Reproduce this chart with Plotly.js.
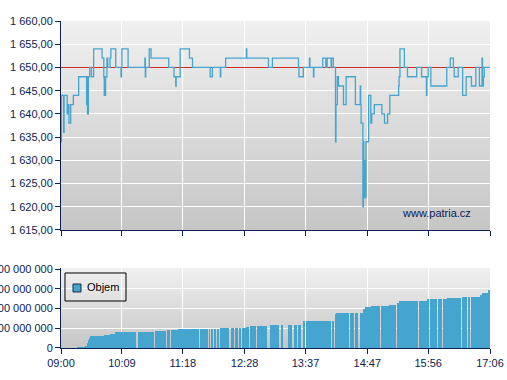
<!DOCTYPE html>
<html>
<head>
<meta charset="utf-8">
<script src="https://cdn.plot.ly/plotly-3.0.1.min.js"></script>
<style>html,body{margin:0;padding:0;background:#fff;}#chart{width:507px;height:380px;}</style>
</head>
<body>
<div id="chart"></div>
<script>
// ---- data ----
const tradeDay = '2024-01-02';
const sessionStart = '09:00:00';
const sessionEnd = '17:06:00';
const prevClose = 1650;
const volumeLabel = 'Objem';
const sourceLabel = 'www.patria.cz';

const timeTicks = ['09:00', '10:09', '11:18', '12:28', '13:37', '14:47', '15:56', '17:06'];
const priceTicks = [1615, 1620, 1625, 1630, 1635, 1640, 1645, 1650, 1655, 1660];
const volumeTicks = [0, 100000000, 200000000, 300000000, 400000000];

const priceTimes = [
  '09:00:00','09:00:30','09:03:00','09:03:30','09:07:00','09:07:30','09:09:00','09:11:00','09:14:00','09:20:00',
  '09:29:00','09:29:30','09:30:00','09:31:00','09:32:30','09:34:30','09:37:00','09:46:30','09:48:30','09:49:00',
  '09:50:30','09:52:00','09:53:00','09:55:30','09:56:30','10:02:00','10:08:00','10:08:30','10:09:00','10:16:00',
  '10:35:00','10:35:30','10:36:00','10:40:00','10:42:00','11:02:00','11:08:00','11:10:00','11:10:30','11:15:00',
  '11:25:30','11:29:00','11:49:00','11:51:30','12:00:30','12:01:00','12:06:30','12:30:00','12:30:30','12:55:00',
  '12:59:30','13:29:00','13:29:30','13:34:30','13:41:30','13:42:00','13:46:00','13:46:30','13:56:30','14:00:00',
  '14:01:30','14:06:00','14:06:30','14:08:30','14:11:00','14:11:30','14:13:00','14:14:20','14:20:00','14:23:00',
  '14:33:30','14:39:00','14:39:30','14:40:00','14:42:00','14:42:30','14:43:00','14:44:00','14:45:00','14:45:30',
  '14:48:30','14:51:00','14:52:00','14:55:00','15:03:30','15:06:30','15:10:00','15:12:30','15:22:30','15:23:00',
  '15:24:00','15:29:00','15:32:30','15:43:00','15:48:30','15:54:00','15:54:30','15:56:00','15:59:00','16:17:00',
  '16:21:00','16:24:30','16:25:30','16:30:00','16:35:00','16:39:00','16:45:00','16:50:00','16:54:00','16:57:00',
  '16:57:30','16:58:30','16:59:30','17:06:00'
];
const prices = [
  1634,1644,1636,1644,1640,1642,1638,1642,1644,1648,
  1642,1648,1640,1648,1650,1648,1654,1652,1648,1644,
  1648,1652,1650,1652,1654,1650,1648,1650,1654,1650,
  1652,1648,1650,1654,1652,1650,1648,1646,1648,1654,
  1652,1650,1648,1650,1648,1650,1652,1654,1652,1650,
  1652,1650,1648,1650,1652,1650,1648,1650,1652,1650,
  1652,1650,1652,1650,1634,1642,1648,1646,1642,1648,
  1642,1646,1642,1638,1620,1634,1622,1630,1622,1634,
  1644,1638,1640,1642,1640,1638,1640,1644,1646,1648,
  1654,1650,1648,1650,1648,1644,1648,1650,1646,1650,
  1652,1650,1648,1650,1644,1648,1646,1650,1646,1652,
  1646,1648,1650,1650
];

// cumulative volume blocks (start, end, cumulative volume)
const volStart = [
  '09:18:00','09:27:30','09:29:00','09:30:30','09:31:30','09:32:30','09:44:30','09:49:00','09:55:50','10:01:30',
  '10:26:40','10:46:30','11:00:00','11:05:00','11:13:00','11:37:30','11:47:40','11:50:20','11:53:10','11:57:00',
  '12:00:25','12:12:50','12:17:20','12:21:30','12:25:20','12:29:50','12:34:20','12:41:55','12:44:30','12:56:55',
  '13:09:00','13:17:40','13:23:25','13:29:00','13:34:40','13:37:25','13:47:10','13:56:10','14:06:50','14:10:30',
  '14:11:40','14:24:30','14:27:00','14:30:00','14:33:10','14:38:50','14:42:35','14:44:30','14:51:00','15:02:35',
  '15:12:00','15:20:25','15:23:00','15:30:55','15:45:20','15:54:25','15:58:05','16:07:30','16:13:05','16:17:40',
  '16:34:00','16:41:30','16:44:10','16:54:40','16:56:35','17:04:05'
];
const volEnd = [
  '09:27:30','09:29:00','09:30:30','09:31:30','09:32:30','09:43:45','09:49:00','09:55:20','10:01:30','10:25:10',
  '10:44:50','10:59:10','11:04:00','11:13:00','11:36:30','11:46:30','11:49:20','11:52:20','11:56:00','11:59:00',
  '12:10:30','12:16:10','12:20:00','12:23:50','12:29:50','12:33:30','12:41:10','12:43:50','12:53:55','13:07:05',
  '13:12:00','13:21:30','13:27:10','13:32:25','13:36:40','13:46:30','13:55:30','14:05:40','14:09:25','14:11:40',
  '14:23:50','14:26:10','14:29:10','14:32:10','14:36:55','14:42:35','14:44:30','14:51:00','15:01:20','15:12:00',
  '15:19:25','15:23:00','15:30:55','15:44:20','15:54:25','15:57:20','16:06:25','16:12:00','16:17:40','16:32:50',
  '16:40:20','16:43:25','16:54:40','16:56:35','17:04:05','17:06:00'
];
const volCumulative = [
  5000000,12000000,25000000,40000000,52000000,60000000,63000000,65000000,72000000,80000000,
  83000000,85000000,90000000,90000000,95000000,95000000,95000000,95000000,95000000,95000000,
  100000000,100000000,100000000,100000000,100000000,107000000,110000000,110000000,110000000,115000000,
  115000000,115000000,115000000,115000000,135000000,135000000,135000000,135000000,137000000,172000000,
  177000000,177000000,177000000,177000000,177000000,177000000,198000000,207000000,215000000,215000000,
  220000000,228000000,237000000,240000000,240000000,248000000,250000000,250000000,250000000,255000000,
  260000000,260000000,260000000,268000000,277000000,293000000
];

// ---- build ----
const at = s => tradeDay + ' ' + (s.length === 5 ? s + ':00' : s);
const ms = s => new Date(tradeDay + 'T' + (s.length === 5 ? s + ':00' : s) + 'Z').getTime();

const navy = '#0d2252';
const blue = '#45a5cf';
const grad = 'data:image/svg+xml;utf8,' + encodeURIComponent(
  '<svg xmlns="http://www.w3.org/2000/svg" width="10" height="100" preserveAspectRatio="none">' +
  '<defs><linearGradient id="g" x1="0" y1="0" x2="0" y2="1">' +
  '<stop offset="0" stop-color="#f0f0f0"/><stop offset="1" stop-color="#c6c6c6"/></linearGradient></defs>' +
  '<rect width="10" height="100" fill="url(#g)"/></svg>');

const traces = [
  {
    x: [at(sessionStart), at(sessionEnd)], y: [prevClose, prevClose],
    type: 'scatter', mode: 'lines', line: {color: '#d42a22', width: 1.1},
    xaxis: 'x', yaxis: 'y', showlegend: false, hoverinfo: 'skip'
  },
  {
    x: priceTimes.map(at), y: prices, type: 'scatter', mode: 'lines',
    line: {color: blue, width: 1.3, shape: 'hv'},
    xaxis: 'x', yaxis: 'y', showlegend: false, name: 'Cena'
  },
  {
    x: volStart.map(at), y: volCumulative, type: 'bar',
    width: volStart.map((s, i) => ms(volEnd[i]) - ms(s)), offset: 0,
    marker: {color: blue, line: {width: 0}},
    xaxis: 'x2', yaxis: 'y2', showlegend: false, name: volumeLabel
  }
];

const xBase = {
  type: 'date', range: [at(sessionStart), at(sessionEnd)],
  tickvals: timeTicks.map(at), ticktext: timeTicks,
  ticks: 'outside', ticklen: 5, tickcolor: navy, tickwidth: 1,
  showline: true, linecolor: navy, linewidth: 1,
  showgrid: true, gridcolor: '#ffffff', gridwidth: 1, zeroline: false, fixedrange: true
};

// legend key box (drawn as a framed key in the volume panel)
const legendShapes = [
  {type: 'rect', xref: 'paper', yref: 'paper', x0: 0.0093, x1: 0.1515, y0: 0.1437, y1: 0.2294,
   line: {color: '#000000', width: 1}, fillcolor: 'rgba(0,0,0,0)', layer: 'above'},
  {type: 'rect', xref: 'paper', yref: 'paper', x0: 0.028, x1: 0.0466, y0: 0.1713, y1: 0.1957,
   line: {color: '#1a2a40', width: 1}, fillcolor: blue, layer: 'above'}
];

const layout = {
  width: 507, height: 380,
  margin: {l: 61, r: 17, t: 21, b: 32},
  paper_bgcolor: '#ffffff', plot_bgcolor: 'rgba(0,0,0,0)',
  separators: ', ',
  font: {family: 'Liberation Sans, Arial, sans-serif', size: 11, color: navy},
  xaxis: Object.assign({}, xBase, {anchor: 'y', showticklabels: false}),
  xaxis2: Object.assign({}, xBase, {anchor: 'y2', matches: 'x', showticklabels: true}),
  yaxis: {
    domain: [0.3609, 1], range: [1615, 1660], tickvals: priceTicks, tickformat: ',.2f',
    ticks: 'outside', ticklen: 5, tickcolor: navy, showline: true, linecolor: navy,
    showgrid: true, gridcolor: '#ffffff', zeroline: false, anchor: 'x'
  },
  yaxis2: {
    domain: [0, 0.2446], range: [0, 405000000], tickvals: volumeTicks, tickformat: ',d',
    ticks: 'outside', ticklen: 5, tickcolor: navy, showline: true, linecolor: navy,
    showgrid: true, gridcolor: '#ffffff', zeroline: false, anchor: 'x2'
  },
  images: [
    {source: grad, xref: 'x domain', yref: 'y domain', x: 0, y: 1, sizex: 1, sizey: 1,
     xanchor: 'left', yanchor: 'top', sizing: 'stretch', layer: 'below'},
    {source: grad, xref: 'x2 domain', yref: 'y2 domain', x: 0, y: 1, sizex: 1, sizey: 1,
     xanchor: 'left', yanchor: 'top', sizing: 'stretch', layer: 'below'}
  ],
  shapes: legendShapes,
  annotations: [
    {text: sourceLabel, xref: 'paper', yref: 'paper', x: 0.9604, y: 0.4128,
     xanchor: 'right', yanchor: 'middle', showarrow: false, font: {size: 11, color: navy}},
    {text: volumeLabel, xref: 'paper', yref: 'paper', x: 0.0559, y: 0.1855,
     xanchor: 'left', yanchor: 'middle', showarrow: false, font: {size: 11, color: '#000000'}}
  ],
  showlegend: false,
  bargap: 0
};

Plotly.newPlot('chart', traces, layout, {staticPlot: true, displayModeBar: false});
</script>
</body>
</html>
